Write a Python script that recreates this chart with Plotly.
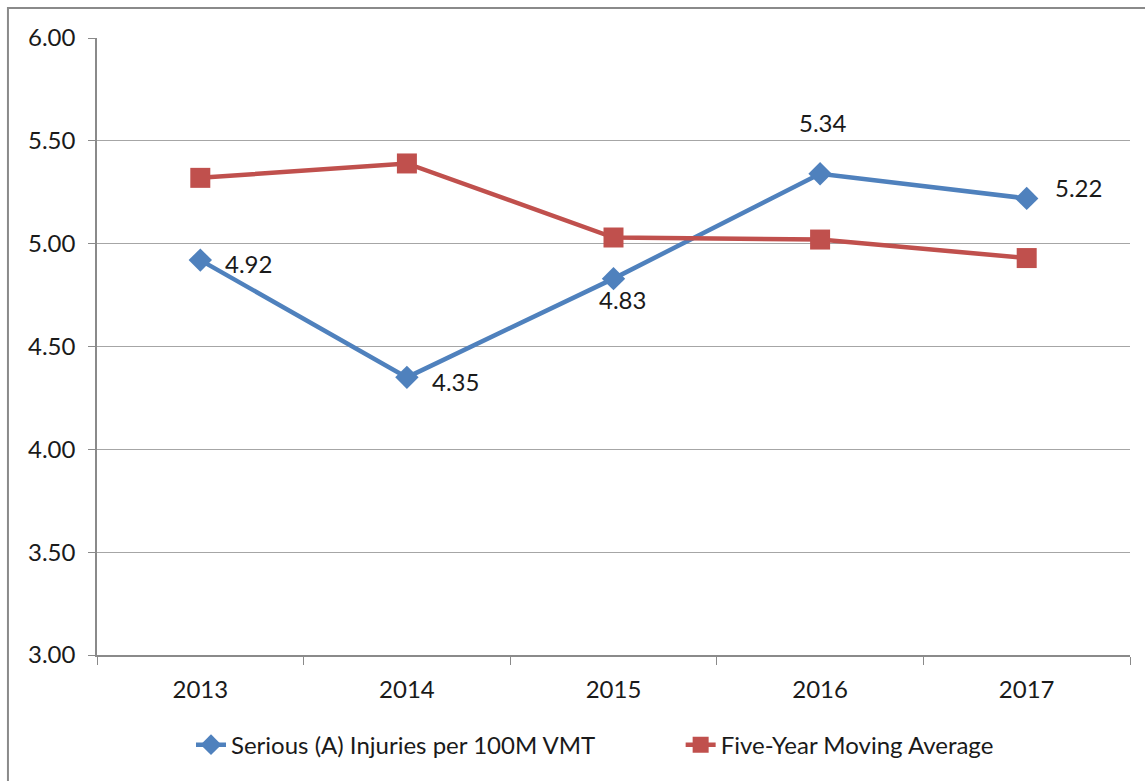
import plotly.graph_objects as go

years = ["2013", "2014", "2015", "2016", "2017"]
serious = [4.92, 4.35, 4.83, 5.34, 5.22]
moving_avg = [5.32, 5.39, 5.03, 5.02, 4.93]
y_ticks = [3.0, 3.5, 4.0, 4.5, 5.0, 5.5, 6.0]

# label offsets (px) for the blue data labels
label_shift = [(48, -3), (49, -4), (9, -21), (3, 51), (52, 11)]

BLUE = "#4F81BD"
RED = "#C0504D"
FONT = "Lato"
TXT = "#1a1a1a"
FS = 24

fig = go.Figure()
fig.add_trace(go.Scatter(
    x=years, y=serious, mode="lines+markers",
    name="Serious (A) Injuries per 100M VMT",
    line=dict(color=BLUE, width=4.5),
    marker=dict(symbol="diamond", size=18, color=BLUE),
    legend="legend",
))
fig.add_trace(go.Scatter(
    x=years, y=moving_avg, mode="lines+markers",
    name="Five-Year Moving Average",
    line=dict(color=RED, width=4.5),
    marker=dict(symbol="square", size=20, color=RED),
    legend="legend2",
))

for i, (v, (dx, dy)) in enumerate(zip(serious, label_shift)):
    fig.add_annotation(x=i, y=v, text=f"{v:.2f}", showarrow=False,
                       xshift=dx, yshift=dy,
                       font=dict(family=FONT, size=FS, color=TXT))

# outer chart frame
fig.add_shape(type="rect", xref="paper", yref="paper",
              x0=-0.0862, x1=1.2, y0=-0.5, y1=1.0486,
              line=dict(color="#8a8a8a", width=2), fillcolor="rgba(0,0,0,0)",
              layer="below")

leg_common = dict(orientation="h", yanchor="middle", y=-0.146, xanchor="left",
                  font=dict(family=FONT, size=FS, color=TXT),
                  bgcolor="rgba(0,0,0,0)")

fig.update_layout(
    width=1145, height=781,
    margin=dict(l=97, r=15, t=38, b=126, autoexpand=False),
    paper_bgcolor="white", plot_bgcolor="white",
    font=dict(family=FONT, size=FS, color=TXT),
    showlegend=True,
    legend=dict(x=0.091, **leg_common),
    legend2=dict(x=0.565, **leg_common),
    xaxis=dict(type="category", tickson="boundaries", ticks="outside", ticklen=8,
               tickcolor="#8a8a8a", showline=True, linecolor="#8a8a8a", linewidth=1.5,
               showgrid=False, tickfont=dict(family=FONT, size=FS, color=TXT),
               ticklabelstandoff=12, range=[-0.5, 4.5]),
    yaxis=dict(range=[3, 6], tickvals=y_ticks, tickformat=".2f", ticks="outside",
               ticklen=7, tickcolor="#8a8a8a", showline=True, linecolor="#8a8a8a",
               linewidth=1.5, showgrid=True, gridcolor="#a6a6a6", gridwidth=1,
               zeroline=False, tickfont=dict(family=FONT, size=FS, color=TXT),
               ticklabelstandoff=8),
)

fig.write_html("out.html")
